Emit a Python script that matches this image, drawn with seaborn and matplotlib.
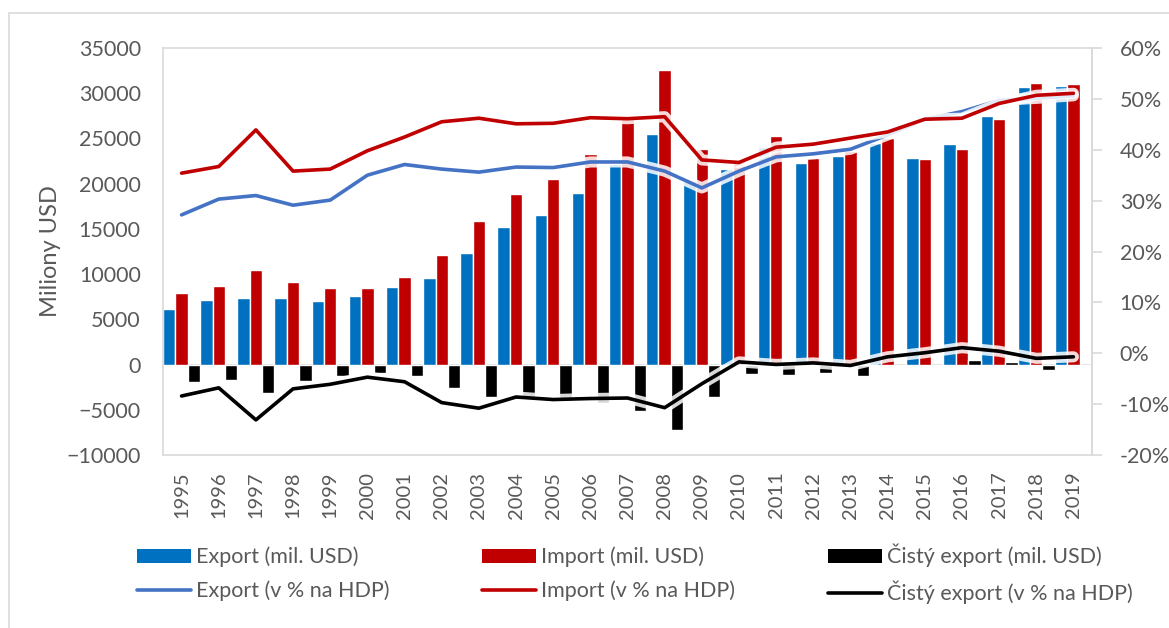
import numpy as np
import pandas as pd
import matplotlib
matplotlib.use("Agg")
import matplotlib.pyplot as plt
import matplotlib.patheffects as pe
from matplotlib.patches import Patch, Rectangle
from matplotlib.lines import Line2D
import seaborn as sns

years = [str(y) for y in range(1995, 2020)]
export_usd = [6110, 7180, 7400, 7400, 7070, 7550, 8540, 9610, 12340, 15250, 16570, 18970, 22200,
              25490, 20300, 21620, 24090, 22250, 23100, 24460, 22870, 24420, 27510, 30640, 30830]
import_usd = [7960, 8730, 10460, 9170, 8430, 8510, 9720, 12120, 15910, 18860, 20550, 23280, 27300,
              32600, 23830, 22600, 25300, 22840, 23570, 25010, 22730, 23870, 27180, 31160, 31050]
net_usd = [-1950, -1660, -3130, -1770, -1220, -920, -1290, -2600, -3620, -3610, -3980, -4300, -5080,
           -7220, -3540, -1000, -1200, -900, -1215, -200, -100, 500, 300, -550, -200]
export_pct = [27.2, 30.3, 31.0, 29.1, 30.1, 35.0, 37.1, 36.2, 35.6, 36.6, 36.5, 37.6, 37.6,
              35.8, 32.5, 35.8, 38.6, 39.2, 40.1, 42.9, 46.0, 47.5, 49.7, 50.1, 50.6]
import_pct = [35.4, 36.7, 43.9, 35.8, 36.2, 39.8, 42.5, 45.5, 46.2, 45.1, 45.2, 46.3, 46.1,
              46.5, 38.0, 37.5, 40.5, 41.1, 42.3, 43.5, 46.0, 46.2, 49.1, 50.7, 51.1]
net_pct = [-8.4, -6.8, -13.1, -7.0, -6.1, -4.7, -5.6, -9.7, -10.8, -8.6, -9.1, -8.9, -8.8,
           -10.7, -6.0, -1.7, -2.2, -1.9, -2.4, -0.7, 0.1, 1.1, 0.4, -1.0, -0.7]

bar_names = ["Export (mil. USD)", "Import (mil. USD)", "Čistý export (mil. USD)"]
line_names = ["Export (v % na HDP)", "Import (v % na HDP)", "Čistý export (v % na HDP)"]
bar_colors = ["#0070C0", "#C00000", "#000000"]
line_colors = ["#4472C4", "#C00000", "#000000"]

sns.set_theme(style="white")
plt.rcParams["font.family"] = ["Lato", "DejaVu Sans"]
txt = "#595959"
grid = "#d9d9d9"

bars = pd.DataFrame({
    "rok": years * 3,
    "hodnota": export_usd + import_usd + net_usd,
    "serie": [bar_names[0]] * 25 + [bar_names[1]] * 25 + [bar_names[2]] * 25,
})
lines = pd.DataFrame({
    "pos": list(range(25)) * 3,
    "pct": export_pct + import_pct + net_pct,
    "serie": [line_names[0]] * 25 + [line_names[1]] * 25 + [line_names[2]] * 25,
})

fig = plt.figure(figsize=(11.69, 6.28), dpi=100)
ax = fig.add_axes([163 / 1169, 1 - 455 / 628, 929 / 1169, 407 / 628])
fig.patches.append(Rectangle((9 / 1169, -0.1), 1.2, 1.1 - 13 / 628, transform=fig.transFigure,
                             fill=False, edgecolor=grid, linewidth=1.2))

sns.barplot(data=bars, x="rok", y="hodnota", hue="serie", hue_order=bar_names,
            palette=bar_colors, width=1.0, saturation=1, legend=False, ax=ax)
ax.axhline(0, color=grid, lw=1.2, zorder=0.5)
ax.set_xlim(-0.5, 24.5)
ax.set_ylim(-10000, 35000)
ax.set_yticks(range(-10000, 35001, 5000))
ax.set_xlabel("")
ax.set_ylabel("Miliony USD", fontsize=17, color=txt)
ax.yaxis.set_label_coords(-0.11, 0.5)
ax.tick_params(axis="y", length=0, pad=16, labelsize=15.5, labelcolor=txt)
ax.tick_params(axis="x", length=0, pad=12, labelsize=14.5, labelcolor=txt, rotation=90)
for s in ax.spines.values():
    s.set_color(grid)
    s.set_linewidth(1.2)

ax2 = ax.twinx()
glow = [pe.Stroke(linewidth=8, foreground="white", alpha=0.85), pe.Normal()]
sns.lineplot(data=lines, x="pos", y="pct", hue="serie", hue_order=line_names,
             palette=line_colors, linewidth=2.6, legend=False, ax=ax2)
for ln in ax2.get_lines():
    ln.set_path_effects(glow)
ax2.set_xlim(-0.5, 24.5)
ax2.set_ylim(-20, 60)
ax2.set_yticks(range(-20, 61, 10))
ax2.set_yticklabels([f"{v}%" for v in range(-20, 61, 10)])
ax2.set_xlabel("")
ax2.set_ylabel("")
ax2.tick_params(axis="y", length=7, width=1.2, color=grid, pad=13, labelsize=15.5, labelcolor=txt)
for name, s in ax2.spines.items():
    s.set_visible(name == "right")
    s.set_color(grid)
    s.set_linewidth(1.2)

# legend: 3 columns, bar on top row, line below (column-major order)
handles, labels = [], []
for i in range(3):
    handles += [Patch(facecolor=bar_colors[i], edgecolor="none"),
                Line2D([0], [0], color=line_colors[i], lw=2.6)]
    labels += [bar_names[i], line_names[i]]
fig.legend(handles, labels, ncol=3, loc="upper left",
           bbox_to_anchor=(133 / 1169 - 0.006, 1 - 533 / 628), frameon=False,
           fontsize=15.5, labelcolor=txt, handlelength=2.5, handleheight=0.65,
           handletextpad=0.25, labelspacing=0.62, borderpad=0, columnspacing=4.3)

fig.savefig("out.png", dpi=100)
